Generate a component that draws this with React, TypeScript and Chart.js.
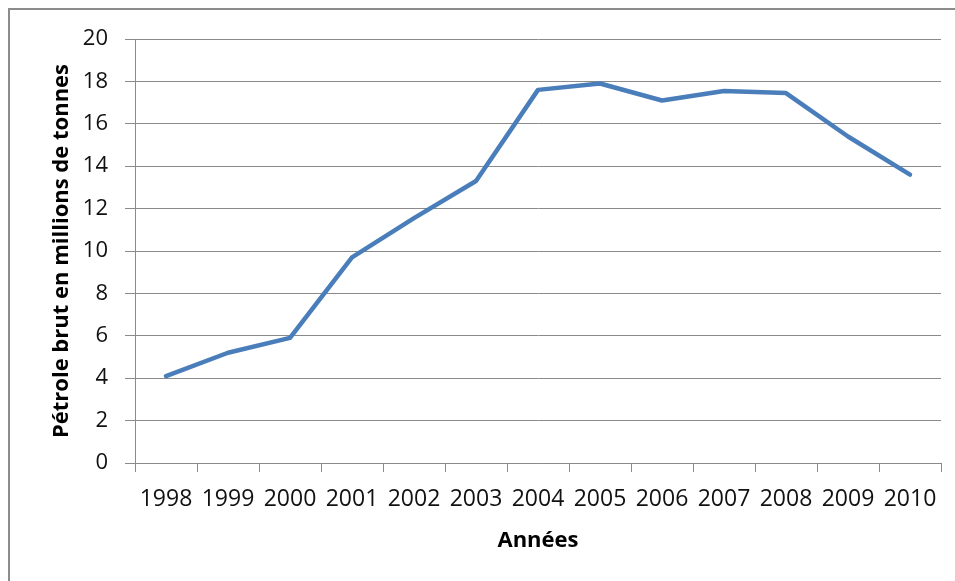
import React, { useEffect, useRef } from "react";
import { Chart, registerables } from "chart.js";

Chart.register(...registerables);

const years = ["1998", "1999", "2000", "2001", "2002", "2003", "2004", "2005", "2006", "2007", "2008", "2009", "2010"];
const petrole = [4.1, 5.2, 5.9, 9.7, 11.55, 13.3, 17.6, 17.9, 17.1, 17.55, 17.45, 15.4, 13.6];
const yTitle = "Pétrole brut en millions de tonnes";
const xTitle = "Années";

export default function App() {
  const ref = useRef<HTMLCanvasElement | null>(null);

  useEffect(() => {
    if (!ref.current) return;
    const gridColor = "#8a8a8a";
    const chart = new Chart(ref.current, {
      type: "line",
      data: {
        labels: years,
        datasets: [
          {
            data: petrole,
            borderColor: "#4a7ebb",
            borderWidth: 4.5,
            pointRadius: 0,
            borderCapStyle: "round",
            borderJoinStyle: "round",
            tension: 0,
            fill: false,
          },
        ],
      },
      options: {
        animation: false,
        responsive: false,
        layout: { padding: { top: 39, right: 14, bottom: 0, left: 0 } },
        plugins: { legend: { display: false }, tooltip: { enabled: false }, title: { display: false } },
        scales: {
          x: {
            type: "category",
            offset: true,
            grid: { offset: true, drawOnChartArea: false, drawTicks: true, tickLength: 9, color: gridColor },
            border: { color: gridColor, width: 1 },
            ticks: {
              autoSkip: false,
              maxRotation: 0,
              minRotation: 0,
              padding: 14,
              color: "#111",
              font: { family: "'Open Sans'", size: 23 },
            },
            title: {
              display: true,
              text: xTitle,
              color: "#000",
              font: { family: "'Open Sans'", size: 22, weight: "bold" },
              padding: { top: 0, bottom: 27 },
            },
            afterFit: (s: any) => {
              s.height = 118;
            },
          },
          y: {
            min: 0,
            max: 20,
            grid: { color: gridColor, tickLength: 10, drawTicks: true },
            border: { color: gridColor, width: 1 },
            ticks: {
              stepSize: 2,
              padding: 17,
              color: "#111",
              font: { family: "'Open Sans'", size: 22 },
            },
            title: {
              display: true,
              text: yTitle,
              color: "#000",
              font: { family: "'Open Sans'", size: 22, weight: "bold" },
              padding: { top: 49, bottom: 0 },
            },
            afterFit: (s: any) => {
              s.width = 135;
            },
          },
        },
      },
    });
    return () => chart.destroy();
  }, []);

  return (
    <div style={{ position: "absolute", left: 0, top: 0, width: 955, height: 581, background: "#fff", overflow: "hidden" }}>
      <canvas ref={ref} width={955} height={581} style={{ display: "block" }} />
      <div
        style={{
          position: "absolute",
          left: 8,
          top: 8,
          width: 960,
          height: 600,
          borderTop: "2px solid #8c8c8c",
          borderLeft: "2px solid #8c8c8c",
          pointerEvents: "none",
        }}
      />
    </div>
  );
}
